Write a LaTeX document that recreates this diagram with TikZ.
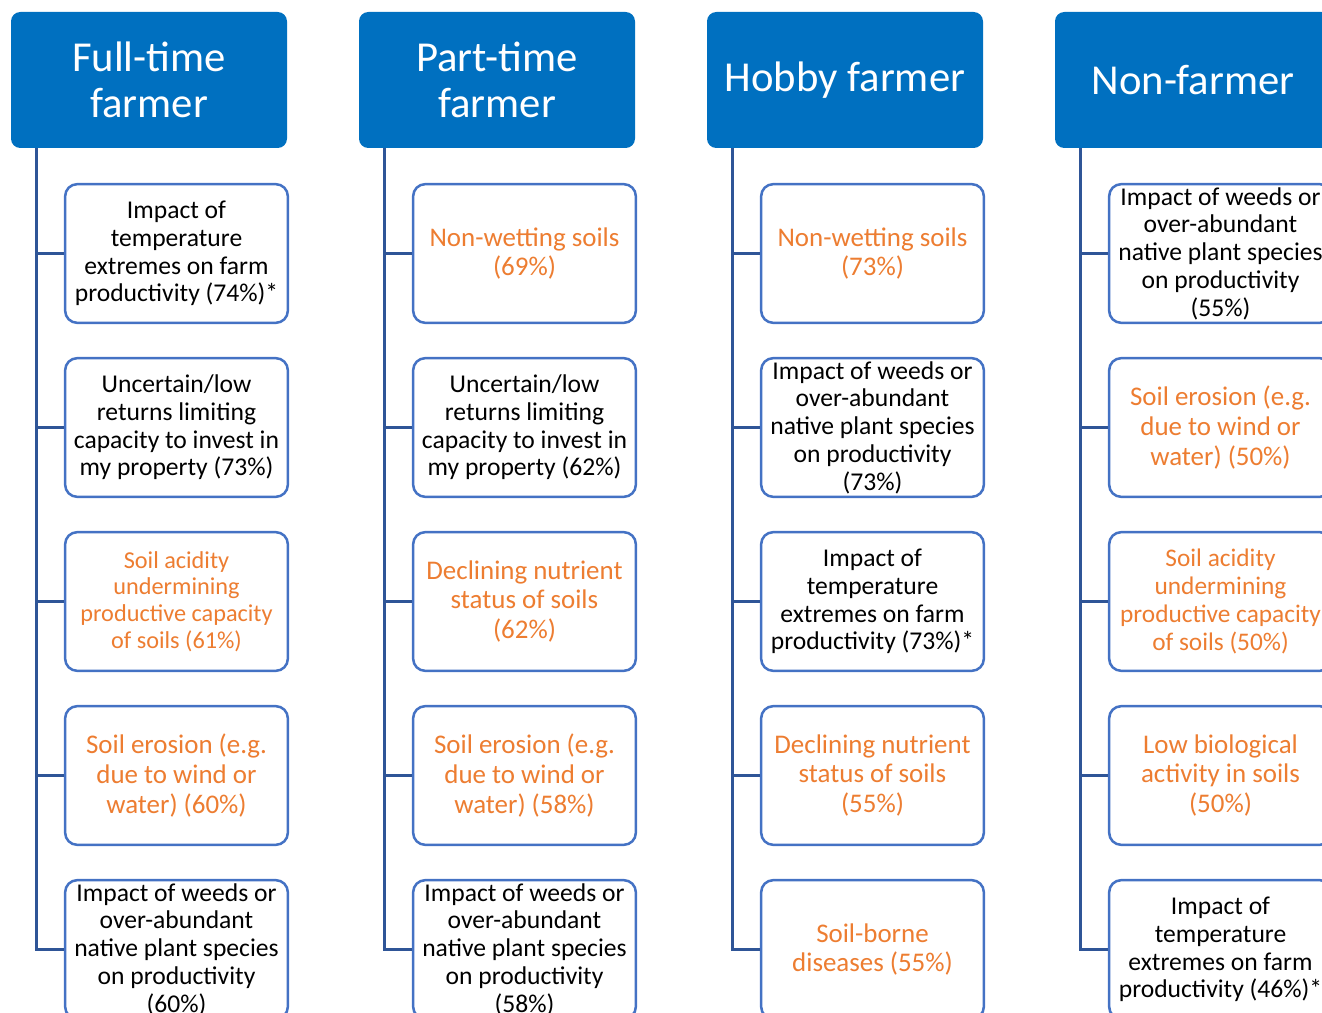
\documentclass[tikz,border=0pt]{standalone}
\usepackage{fontspec}
\setmainfont{Carlito}
\definecolor{hdrblue}{HTML}{0070C0}
\definecolor{boxblue}{HTML}{4472C4}
\definecolor{linkblue}{HTML}{2F5597}
\definecolor{orng}{HTML}{ED7D31}
\begin{document}
\begin{tikzpicture}[x=0.75pt,y=-0.75pt,
  hdr/.style={fill=hdrblue,draw=none,rounded corners=7pt,minimum width=207pt,minimum height=102pt,text=white,align=center,font=\fontsize{32}{34.5}\selectfont,inner sep=0pt},
  item/.style={draw=boxblue,line width=1.9pt,rounded corners=9pt,fill=white,minimum width=167pt,minimum height=104pt,align=center,inner sep=0pt},
  blk/.style={text=black,font=\fontsize{19.2}{20.8}\selectfont},
  org/.style={text=orng,font=\fontsize{20.2}{22.3}\selectfont},
  orgs/.style={text=orng,font=\fontsize{18.2}{19.9}\selectfont},
  conn/.style={draw=linkblue,line width=1.9pt}]
\useasboundingbox (0,0) rectangle (1322,1013);
\clip (0,0) rectangle (1322,1013);
% headers
\node[hdr] (h1) at (149,80) {Full-time\\farmer};
\node[hdr] (h2) at (497,80) {Part-time\\farmer};
\node[hdr] (h3) at (845,80) {Hobby farmer};
\node[hdr] (h4) at (1193,80) {Non-farmer};
% column 1
\node[item,blk] (a1) at (176.5,253.5) {Impact of\\temperature\\extremes on farm\\productivity (74\%)*};
\node[item,blk] (a2) at (176.5,427.5) {Uncertain/low\\returns limiting\\capacity to invest in\\my property (73\%)};
\node[item,orgs] (a3) at (176.5,601.5) {Soil acidity\\undermining\\productive capacity\\of soils (61\%)};
\node[item,org] (a4) at (176.5,775.5) {Soil erosion (e.g.\\due to wind or\\water) (60\%)};
\node[item,blk] (a5) at (176.5,949.5) {Impact of weeds or\\over-abundant\\native plant species\\on productivity\\(60\%)};
% column 2
\node[item,org] (b1) at (524.5,253.5) {Non-wetting soils\\(69\%)};
\node[item,blk] (b2) at (524.5,427.5) {Uncertain/low\\returns limiting\\capacity to invest in\\my property (62\%)};
\node[item,org] (b3) at (524.5,601.5) {Declining nutrient\\status of soils\\(62\%)};
\node[item,org] (b4) at (524.5,775.5) {Soil erosion (e.g.\\due to wind or\\water) (58\%)};
\node[item,blk] (b5) at (524.5,949.5) {Impact of weeds or\\over-abundant\\native plant species\\on productivity\\(58\%)};
% column 3
\node[item,org] (c1) at (872.5,253.5) {Non-wetting soils\\(73\%)};
\node[item,blk] (c2) at (872.5,427.5) {Impact of weeds or\\over-abundant\\native plant species\\on productivity\\(73\%)};
\node[item,blk] (c3) at (872.5,601.5) {Impact of\\temperature\\extremes on farm\\productivity (73\%)*};
\node[item,org] (c4) at (872.5,775.5) {Declining nutrient\\status of soils\\(55\%)};
\node[item,org] (c5) at (872.5,949.5) {Soil-borne\\diseases (55\%)};
% column 4
\node[item,blk] (d1) at (1220.5,253.5) {Impact of weeds or\\over-abundant\\native plant species\\on productivity\\(55\%)};
\node[item,org] (d2) at (1220.5,427.5) {Soil erosion (e.g.\\due to wind or\\water) (50\%)};
\node[item,org,font=\fontsize{19}{20.8}\selectfont] (d3) at (1220.5,601.5) {Soil acidity\\undermining\\productive capacity\\of soils (50\%)};
\node[item,org] (d4) at (1220.5,775.5) {Low biological\\activity in soils\\(50\%)};
\node[item,blk] (d5) at (1220.5,949.5) {Impact of\\temperature\\extremes on farm\\productivity (46\%)*};
% connectors
\foreach \h/\c in {h1/a,h2/b,h3/c,h4/d}{
  \coordinate (t\c) at ([xshift=19.5pt]\h.south west);
  \draw[conn] (t\c) |- (\c5.west);
  \foreach \i in {1,2,3,4}{
    \draw[conn] (t\c |- \c\i.west) -- (\c\i.west);
  }
}
\end{tikzpicture}
\end{document}
